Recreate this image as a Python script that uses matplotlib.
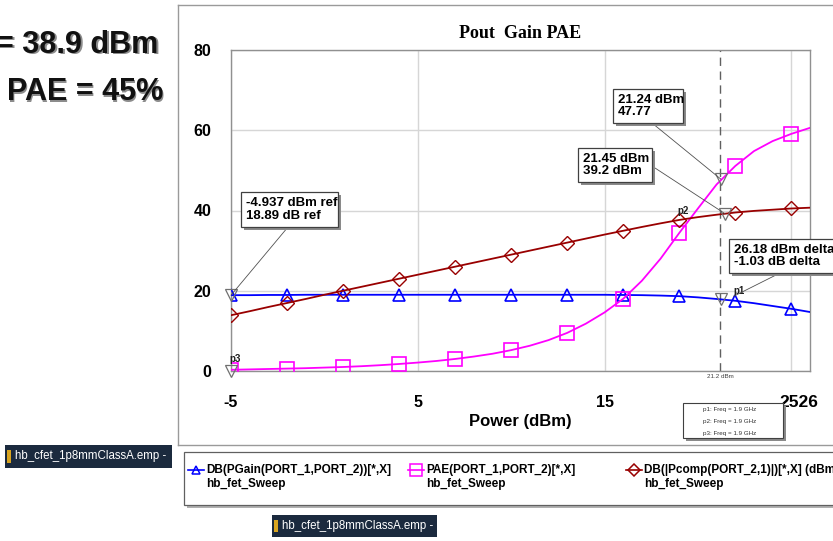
import matplotlib
matplotlib.use("Agg")
import matplotlib.pyplot as plt
from matplotlib.patches import Rectangle
from matplotlib.lines import Line2D
from matplotlib.transforms import ScaledTranslation

W, H = 833, 541

# ---- data ----
pin_dbm = list(range(-5, 27))
gain_db = [18.9, 18.9, 18.95, 18.95, 19.0, 19.0, 19.0, 19.0, 19.0, 19.0, 19.0, 19.0,
           19.0, 19.0, 19.0, 19.0, 19.0, 19.0, 19.0, 19.0, 19.0, 18.95, 18.9, 18.8,
           18.65, 18.35, 17.95, 17.5, 16.9, 16.2, 15.5, 14.7]
pae_pct = [0.3, 0.4, 0.5, 0.6, 0.7, 0.85, 1.0, 1.2, 1.45, 1.75, 2.1, 2.5, 3.0, 3.6,
           4.3, 5.2, 6.3, 7.7, 9.5, 11.8, 14.6, 18.0, 22.5, 28.0, 34.4, 40.5, 46.5,
           51.1, 54.8, 57.3, 59.1, 60.6]
pout_dbm = [13.9, 14.9, 15.95, 16.95, 17.95, 19.0, 20.0, 21.0, 22.0, 23.0, 24.0, 25.0,
            26.0, 27.0, 28.0, 29.0, 30.0, 31.0, 32.0, 33.0, 34.0, 34.95, 35.9, 36.8,
            37.65, 38.35, 38.95, 39.5, 39.9, 40.2, 40.5, 40.7]
x_ticks = [-5, 5, 15, 25]
x_tick_labels = ["-5", "5", "15", "2526"]
y_ticks = [0, 20, 40, 60, 80]
marker_pts_x = [-5.0, -5.0, 21.24, 21.45, 21.24]
marker_pts_y = [18.89, 0.0, 47.77, 39.2, 17.86]
legend_names = ["DB(PGain(PORT_1,PORT_2))[*,X]", "PAE(PORT_1,PORT_2)[*,X]",
                "DB(|Pcomp(PORT_2,1)|)[*,X] (dBm)"]

def fx(x):
    return x / W

def fy(y):
    return 1 - y / H

fig = plt.figure(figsize=(W / 100, H / 100), dpi=100)
fig.patch.set_facecolor("white")

# chart window frame
fig.add_artist(Line2D([fx(178), fx(178)], [fy(5), fy(445)], color="#9a9a9a", lw=1.0))
fig.add_artist(Line2D([fx(178), fx(833)], [fy(5), fy(5)], color="#9a9a9a", lw=1.0))
fig.add_artist(Line2D([fx(178), fx(833)], [fy(445), fy(445)], color="#9a9a9a", lw=1.0))

ax = fig.add_axes([fx(231), fy(371), fx(810) - fx(231), fy(50) - fy(371)])
ax.set_xlim(-5, 26)
ax.set_ylim(0, 80)
ax.set_xticks(x_ticks)
ax.set_xticklabels(x_tick_labels)
ax.set_yticks(y_ticks)
for s in ax.spines.values():
    s.set_color("#909090")
    s.set_linewidth(1.0)
ax.grid(True, color="#d6d6d6", lw=1.0)
ax.tick_params(length=0)
for lab in ax.get_xticklabels() + ax.get_yticklabels():
    lab.set_fontfamily("Liberation Sans")
    lab.set_fontweight("bold")
    lab.set_fontsize(11.5)
ax.tick_params(axis="y", pad=14)
ax.tick_params(axis="x", pad=17)
last = ax.get_xticklabels()[-1]
last.set_horizontalalignment("left")
last.set_fontsize(12.5)
last.set_transform(last.get_transform() + ScaledTranslation(-12 / 100, 0, fig.dpi_scale_trans))

ax.plot(pin_dbm, gain_db, color="#0000ff", lw=1.3, marker="^", markevery=3,
        ms=9, mfc="none", mec="#0000ff", mew=1.2, zorder=3, clip_on=True)
ax.plot(pin_dbm, pae_pct, color="#ff00ff", lw=1.3, marker="s", markevery=3,
        ms=10, mfc="none", mec="#ff00ff", mew=1.2, zorder=3)
ax.plot(pin_dbm, pout_dbm, color="#990000", lw=1.3, marker="D", markevery=3,
        ms=7, mfc="none", mec="#990000", mew=1.0, zorder=3)

ax.axvline(21.2, color="#606060", lw=1.0, ls=(0, (6, 4)), zorder=2)
ax.plot(marker_pts_x, marker_pts_y, ls="none", marker="v", ms=8, mfc="none",
        mec="#707070", mew=0.9, zorder=4, clip_on=False)

ax.set_title("Pout  Gain PAE", fontfamily="Liberation Serif", fontweight="bold",
             fontsize=13, pad=9)
ax.set_xlabel("Power (dBm)", fontfamily="Liberation Sans", fontweight="bold",
              fontsize=12, labelpad=3)

# marker labels
for txt, (x, y) in [("p3", (-5.1, 2.2)), ("p2", (18.9, 39.2)), ("p1", (21.9, 19.3))]:
    ax.text(x, y, txt, fontsize=7, fontweight="bold", color="#202020",
            fontfamily="Liberation Sans", zorder=5)
fig.text(fx(720), fy(377), "21.2 dBm", fontsize=4.5, ha="center", va="center",
         color="#404040", fontfamily="Liberation Sans")

# annotation boxes
def callout(x0, y0, x1, y1, lines, lx, ly, data_xy):
    fig.add_artist(Rectangle((fx(x0 + 3), fy(y1 + 3)), fx(x1 - x0), fy(y0) - fy(y1),
                             facecolor="#8a8a8a", edgecolor="none", zorder=6))
    fig.add_artist(Rectangle((fx(x0), fy(y1)), fx(x1 - x0), fy(y0) - fy(y1),
                             facecolor="white", edgecolor="#404040", lw=0.9, zorder=7))
    fig.text(fx(x0 + 5), fy((y0 + y1) / 2), lines, fontsize=9.5, fontweight="bold",
             fontfamily="Liberation Sans", va="center", ha="left", linespacing=1.05,
             zorder=8)
    ax.annotate("", xy=data_xy, xycoords="data", xytext=(fx(lx), fy(ly)),
                textcoords="figure fraction",
                arrowprops=dict(arrowstyle="-", color="#505050", lw=0.6,
                                shrinkA=0, shrinkB=0), zorder=5)

callout(241, 192, 338, 227, "-4.937 dBm ref\n18.89 dB ref", 288, 227, (-5, 18.89))
callout(613, 89, 683, 123, "21.24 dBm\n47.77", 652, 123, (21.24, 47.77))
callout(578, 148, 652, 182, "21.45 dBm\n39.2 dBm", 655, 168, (21.45, 39.2))
callout(729, 239, 845, 273, "26.18 dBm delta\n-1.03 dB delta", 776, 275, (21.9, 18.6))

# marker info box
fig.add_artist(Rectangle((fx(686), fy(441)), fx(100), fy(403) - fy(438),
                         facecolor="#8a8a8a", edgecolor="none", zorder=6))
fig.add_artist(Rectangle((fx(683), fy(438)), fx(100), fy(403) - fy(438),
                         facecolor="white", edgecolor="#404040", lw=0.8, zorder=7))
for i, t in enumerate(["p1: Freq = 1.9 GHz", "p2: Freq = 1.9 GHz", "p3: Freq = 1.9 GHz"]):
    fig.text(fx(703), fy(409 + i * 12), t, fontsize=4.5, color="#303030",
             fontfamily="Liberation Sans", va="center", zorder=8)

# legend frame
fig.add_artist(Rectangle((fx(187), fy(508)), fx(660), fy(452) - fy(505),
                         facecolor="#b0b0b0", edgecolor="none", zorder=1))
fig.add_artist(Rectangle((fx(184), fy(505)), fx(660), fy(452) - fy(505),
                         facecolor="white", edgecolor="#606060", lw=0.9, zorder=2))
leg_x = [188, 408, 626]
leg_col = ["#0000ff", "#ff00ff", "#990000"]
leg_mk = ["^", "s", "D"]
leg_ms = [6, 8, 6]
for i in range(3):
    x = leg_x[i]
    fig.add_artist(Line2D([fx(x), fx(x + 16)], [fy(470), fy(470)], color=leg_col[i],
                          lw=1.2, zorder=3))
    fig.add_artist(Line2D([fx(x + 8)], [fy(470)], color=leg_col[i], lw=0,
                          marker=leg_mk[i], ms=leg_ms[i], mfc="none",
                          mec=leg_col[i], mew=1.1, zorder=3))
    fig.text(fx(x + 18), fy(470), legend_names[i], fontsize=8.5, fontweight="bold",
             fontfamily="Liberation Sans", va="center", ha="left", zorder=4)
    fig.text(fx(x + 18), fy(484), "hb_fet_Sweep", fontsize=8.5, fontweight="bold",
             fontfamily="Liberation Sans", va="center", ha="left", zorder=4)

# left slide text with shadow
for txt, x, y in [("= 38.9 dBm", -4, 45), ("PAE = 45%", 7, 92)]:
    fig.text(fx(x + 1.5), fy(y + 1.5), txt, fontsize=22, fontweight="bold",
             fontfamily="Liberation Sans", color="#8c8c8c", va="center", ha="left")
    fig.text(fx(x), fy(y), txt, fontsize=22, fontweight="bold",
             fontfamily="Liberation Sans", color="#111111", va="center", ha="left")

# taskbar buttons
for x0, y0, x1, y1 in [(5, 445, 172, 468), (272, 515, 437, 537)]:
    fig.add_artist(Rectangle((fx(x0), fy(y1)), fx(x1 - x0), fy(y0) - fy(y1),
                             facecolor="#1b2a3e", edgecolor="none", zorder=5))
    fig.add_artist(Rectangle((fx(x0 + 2), fy(y1 - 5)), fx(4), fy(y0 + 5) - fy(y1 - 5),
                             facecolor="#d9a520", edgecolor="none", zorder=6))
    fig.text(fx(x0 + 10), fy((y0 + y1) / 2), "hb_cfet_1p8mmClassA.emp -", fontsize=8.3,
             color="white", fontfamily="Liberation Sans", va="center", ha="left",
             zorder=6)

fig.savefig("out.png", dpi=100, facecolor="white")
